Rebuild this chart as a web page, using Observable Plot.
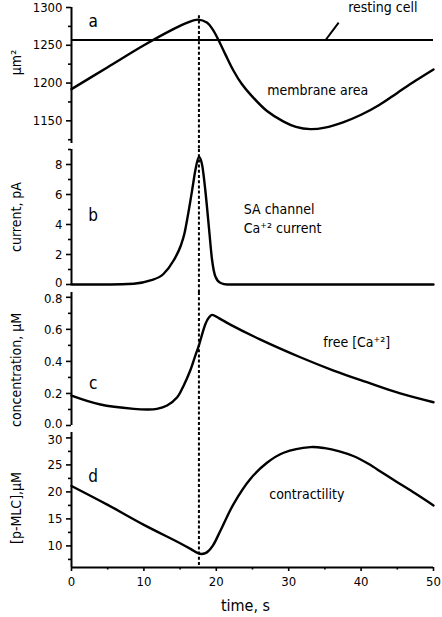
<!DOCTYPE html>
<html>
<head>
<meta charset="utf-8">
<script src="https://cdn.jsdelivr.net/npm/d3@7"></script>
<script src="https://cdn.jsdelivr.net/npm/@observablehq/plot@0.6"></script>
<style>
  html, body { margin: 0; padding: 0; background: #fff; }
  #chart { position: relative; width: 442px; height: 617px; overflow: hidden; }
  #chart svg { position: absolute; left: 0; }
  #chart svg text { font-stretch: condensed; }
</style>
</head>
<body>
<div id="chart"></div>
<script>
// ---- data ----
const markerTime = 17.6;          // dashed vertical line (s)
const restingArea = 1257;         // resting cell membrane area (µm²)

const tArea = [0, 5, 10, 14, 16, 17.5, 18.7, 19.5, 20.3, 21.3, 22.4, 23.5, 24.7, 27, 29.3, 31, 33, 35, 37.5, 40, 42.5, 45, 47.5, 50];
const area  = [1192, 1221, 1250, 1271, 1280, 1284, 1280, 1271, 1257, 1237, 1216, 1199, 1185, 1163, 1149, 1142, 1139, 1141, 1148, 1158, 1171, 1187, 1203, 1218];

const tCurr = [0, 5.4, 8.6, 10.9, 12.7, 14.1, 15.1, 15.6, 16.0, 16.7, 17.1, 17.6, 18.05, 18.5, 19.0, 19.4, 19.9, 20.6, 21.5, 25, 50];
const curr  = [0, 0, 0.05, 0.27, 0.7, 1.6, 2.6, 3.4, 4.4, 6.4, 7.6, 8.5, 7.95, 6.2, 3.7, 1.7, 0.5, 0.1, 0, 0, 0];

const tConc = [0, 4, 8.6, 10.5, 11.8, 13.2, 14.6, 15.5, 16.4, 17.1, 17.6, 18.05, 18.5, 19.0, 19.4, 20.35, 22, 26.1, 31.6, 36.2, 40.8, 45.4, 50];
const conc  = [0.187, 0.131, 0.104, 0.1, 0.104, 0.125, 0.176, 0.25, 0.343, 0.436, 0.5, 0.57, 0.634, 0.675, 0.69, 0.67, 0.628, 0.536, 0.426, 0.343, 0.27, 0.2, 0.145];

const tMlc = [0, 5, 10, 15, 16.5, 17.4, 18.0, 18.7, 19.5, 20.6, 22.4, 24.7, 27, 29.3, 33, 35, 37, 39, 41, 43, 45, 47.5, 50];
const mlc  = [21.1, 17.6, 13.9, 10.5, 9.4, 8.7, 8.5, 8.8, 10.0, 12.9, 17.8, 22.4, 25.4, 27.25, 28.3, 28.1, 27.5, 26.6, 25.2, 23.5, 21.8, 19.7, 17.5];

// ticks
const xTicks = [0, 10, 20, 30, 40, 50];
const xMinor = [5, 15, 25, 35, 45];
const aTicks = [1150, 1200, 1250, 1300];
const aMinor = [1125, 1175, 1225, 1275];
const bTicks = [0, 2, 4, 6, 8];
const bMinor = [1, 3, 5, 7, 9];
const cTicks = [0, 0.2, 0.4, 0.6, 0.8];
const cMinor = [0.1, 0.3, 0.5, 0.7];
const dTicks = [10, 15, 20, 25, 30];
const dMinor = [7.5, 12.5, 17.5, 22.5, 27.5];

// labels
const yTitles = ["µm²", "current, pA", "concentration, µM", "[p-MLC],µM"];
const xTitle = "time, s";
const letters = [{x: 3.0, y: 1281, t: "a"}, {x: 3.0, y: 4.6, t: "b"}, {x: 3.0, y: 0.26, t: "c"}, {x: 3.0, y: 22.8, t: "d"}];
const annA = [{x: 34.0, y: 1190, t: "membrane area"}, {x: 43.0, y: 1300, t: "resting cell"}];
const annB = [{x: 23.8, y: 5.0, t: "SA channel"}, {x: 23.8, y: 3.73, t: "Ca⁺² current"}];
const annC = [{x: 39.4, y: 0.517, t: "free [Ca⁺²]"}];
const annD = [{x: 32.5, y: 19.5, t: "contractility"}];
const leader = [{x1: 36.9, y1: 1280, x2: 35.1, y2: 1257}];

// ---- drawing ----
const FONT = "'DejaVu Sans Condensed', 'DejaVu Sans', sans-serif";
const W = 442, ML = 71, MR = 9;
const zip = (xs, ys) => xs.map((x, i) => ({x, y: ys[i]}));

function panel({top, height, mt, mb, domain, ticks, minor, fmt, t, v, curve, title, titleDy,
                letter, ann, annAnchor = "middle", ruleY, edge = [], extra = [], xaxis = false}) {
  const edgeVals = edge.map(e => e.v);
  const marks = [
    Plot.ruleX([markerTime], {y1: ruleY[0], y2: ruleY[1], stroke: "black", strokeWidth: 2, strokeDasharray: "3,2.2"}),
    Plot.line(zip(t, v), {x: "x", y: "y", curve, stroke: "black", strokeWidth: 2.4}),
    Plot.axisY(ticks, {tickSize: 5, tickPadding: 4, strokeWidth: 1.6, fontSize: 13,
                       tickFormat: d => edgeVals.includes(d) ? "" : fmt(d), label: null}),
    ...edge.map(e => Plot.axisY([e.v], {tickSize: 0, tickPadding: 9, fontSize: 13, dy: e.dy, tickFormat: fmt, label: null})),
    Plot.axisY(minor, {tickSize: 3, strokeWidth: 1.6, tickFormat: () => "", label: null}),
    Plot.ruleX([0], {stroke: "black", strokeWidth: 2}),
    Plot.text([title], {frameAnchor: "left", rotate: -90, dx: -55, dy: titleDy, fontSize: 14, lineAnchor: "middle", textAnchor: "middle"}),
    Plot.text([letter], {x: "x", y: "y", text: "t", fontSize: 17, textAnchor: "middle", lineAnchor: "middle"}),
    Plot.text(ann, {x: "x", y: "y", text: "t", fontSize: 14, textAnchor: annAnchor, lineAnchor: "middle"}),
    ...extra
  ];
  if (xaxis) {
    marks.push(
      Plot.axisX(xTicks, {tickSize: 4, tickPadding: 5, strokeWidth: 1.6, fontSize: 13, label: null}),
      Plot.axisX(xMinor, {tickSize: 2.5, strokeWidth: 1.6, tickFormat: () => "", label: null}),
      Plot.ruleY([domain[0]], {stroke: "black", strokeWidth: 2}),
      Plot.text([xTitle], {frameAnchor: "bottom", dx: -7, dy: 38, fontSize: 16, lineAnchor: "middle"})
    );
  }
  const svg = Plot.plot({
    width: W, height,
    marginLeft: ML, marginRight: MR, marginTop: mt, marginBottom: mb,
    style: {fontFamily: FONT, fontSize: "13px", background: "transparent", overflow: "visible", color: "black"},
    x: {domain: [0, 50], axis: xaxis ? undefined : null},
    y: {domain},
    marks
  });
  svg.style.top = top + "px";
  return svg;
}

const chart = document.getElementById("chart");

chart.appendChild(panel({
  top: 0, height: 150, mt: 7, mb: 7, domain: [1120, 1300],
  ticks: aTicks, minor: aMinor, fmt: d3.format("d"),
  t: tArea, v: area, curve: "catmull-rom", title: yTitles[0], titleDy: -13,
  letter: letters[0], ann: annA, ruleY: [1289, 1112],
  extra: [
    Plot.ruleY([restingArea], {stroke: "black", strokeWidth: 2.2}),
    Plot.link(leader, {x1: "x1", y1: "y1", x2: "x2", y2: "y2", stroke: "black", strokeWidth: 2})
  ]
}));
chart.appendChild(panel({
  top: 140, height: 150, mt: 9, mb: 6, domain: [0, 9],
  ticks: bTicks, minor: bMinor, fmt: d3.format("d"),
  t: tCurr, v: curr, curve: "monotone-x", title: yTitles[1], titleDy: 0,
  letter: letters[1], ann: annB, annAnchor: "start", ruleY: [9.0, -0.53],
  edge: [{v: 0, dy: -1.8}]
}));
chart.appendChild(panel({
  top: 285, height: 145, mt: 7, mb: 5, domain: [0, 0.83],
  ticks: cTicks, minor: cMinor, fmt: d => d.toFixed(1),
  t: tConc, v: conc, curve: "catmull-rom", title: yTitles[2], titleDy: 11,
  letter: letters[2], ann: annC, ruleY: [0.83, -0.044],
  edge: [{v: 0.8, dy: 1.5}, {v: 0, dy: -1.8}]
}));
chart.appendChild(panel({
  top: 420, height: 197, mt: 12, mb: 50, domain: [6, 31],
  ticks: dTicks, minor: dMinor, fmt: d3.format("d"),
  t: tMlc, v: mlc, curve: "catmull-rom", title: yTitles[3], titleDy: 8,
  letter: letters[3], ann: annD, ruleY: [31, 6.2], xaxis: true,
  edge: [{v: 30, dy: 1.5}]
}));
</script>
</body>
</html>
